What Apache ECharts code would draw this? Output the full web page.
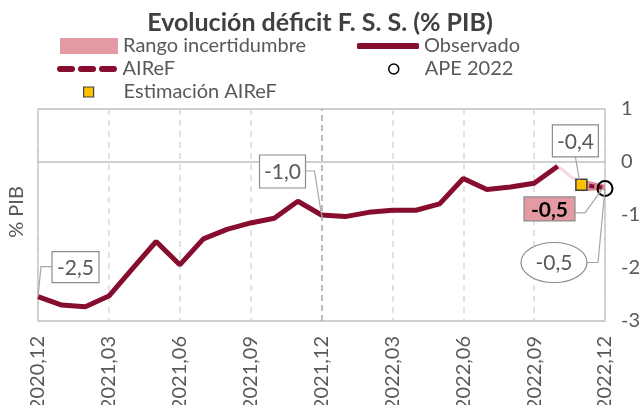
<!DOCTYPE html>
<html>
<head>
<meta charset="utf-8">
<script src="https://cdn.jsdelivr.net/npm/echarts@6/dist/echarts.min.js"></script>
<style>html,body{margin:0;padding:0;background:#fff}#c{width:640px;height:405px}</style>
</head>
<body>
<div id="c"></div>
<script>
// ---- data ----
const categories = ['2020,12','2021,01','2021,02','2021,03','2021,04','2021,05','2021,06','2021,07','2021,08','2021,09','2021,10','2021,11','2021,12',
  '2022,01','2022,02','2022,03','2022,04','2022,05','2022,06','2022,07','2022,08','2022,09','2022,10','2022,11','2022,12'];
const observed = [-2.54,-2.70,-2.73,-2.53,-2.01,-1.50,-1.94,-1.45,-1.27,-1.15,-1.06,-0.74,-1.00,
  -1.03,-0.95,-0.91,-0.91,-0.79,-0.31,-0.52,-0.47,-0.40,-0.08,null,null];
const aireF = [null,null,null,null,null,null,null,null,null,null,null,null,null,
  null,null,null,null,null,null,null,null,null,null,-0.43,-0.49];
const rangeLow = [null,null,null,null,null,null,null,null,null,null,null,null,null,
  null,null,null,null,null,null,null,null,null,null,-0.55,-0.53];
const rangeHigh = [null,null,null,null,null,null,null,null,null,null,null,null,null,
  null,null,null,null,null,null,null,null,null,null,-0.33,-0.43];
const estimacion = [null,null,null,null,null,null,null,null,null,null,null,null,null,
  null,null,null,null,null,null,null,null,null,null,-0.43,null];
const ape2022 = [null,null,null,null,null,null,null,null,null,null,null,null,null,
  null,null,null,null,null,null,null,null,null,null,null,-0.5];
const yTicks = [-3,-2,-1,0,1];
const annotText = ['-2,5','-1,0','-0,4','-0,5','-0,5'];

// derived for drawing
const rangeWidth = rangeHigh.map((h,i)=> h==null ? null : +(h - rangeLow[i]).toFixed(3));
const connector = categories.map((c,i)=> i===22 ? observed[22] : (i===23 ? estimacion[23] : null));
const annotData = [
  [0, observed[0], 0],
  [12, observed[12], 1],
  [23, estimacion[23], 2],
  [24, aireF[24], 3],
  [24, ape2022[24], 4]
];

// ---- styles / layout ----
const FONT = 'Lato';
const GRAY = '#595959';
const MAROON = '#870d2f';
const PINK = '#e39aa3';
const annotLayout = [
  {kind:'box', x:14, y:-45, w:47, h:31, leader:[[0,0],[3,-30],[14,-30]]},
  {kind:'box', x:-62, y:-60, w:46, h:33, leader:[[0,0],[-7,-44],[-16,-44]]},
  {kind:'box', x:-29, y:-60, w:46, h:32, leader:[[-2,-5],[-6,-28]]},
  {kind:'pink', x:-81, y:9, w:51, h:24, leader:[[-2,0],[-20,25],[-30,25]]},
  {kind:'ellipse', x:-51, y:74, w:66, h:40, leader:[[0,0],[-7,74],[-18,74]]}
];

const chart = echarts.init(document.getElementById('c'), null, {renderer:'canvas'});
const legendText = {fontSize:20, color:GRAY, fontFamily:FONT};
const option = {
  animation:false,
  textStyle:{fontFamily:FONT},
  title:{text:'Evolución déficit F. S. S. (% PIB)', left:'center', top:5,
    textStyle:{fontSize:25, fontWeight:'bold', color:'#404040', fontFamily:FONT}},
  legend:[
    {left:60, top:36, padding:0, itemWidth:58, itemHeight:16, textStyle:legendText, selectedMode:false,
      data:[{name:'Rango incertidumbre', icon:'rect', itemStyle:{color:PINK, borderWidth:0}}]},
    {left:357, top:36, padding:0, itemWidth:62, itemHeight:6, textStyle:legendText, selectedMode:false,
      data:[{name:'Observado', icon:'roundRect', itemStyle:{color:MAROON, borderWidth:0}}]},
    {left:57, top:59, padding:0, itemWidth:61, itemHeight:6, textStyle:legendText, selectedMode:false,
      data:[{name:'AIReF', icon:'path://M3,0h12a3,3 0 0 1 0,6h-12a3,3 0 0 1 0,-6z M24,0h12a3,3 0 0 1 0,6h-12a3,3 0 0 1 0,-6z M45,0h12a3,3 0 0 1 0,6h-12a3,3 0 0 1 0,-6z', itemStyle:{color:MAROON, borderWidth:0}}]},
    {left:388, top:59, padding:0, itemWidth:10, itemHeight:10, textStyle:Object.assign({padding:[0,0,0,21]}, legendText), selectedMode:false,
      data:[{name:'APE 2022', icon:'circle', itemStyle:{color:'#fff', borderColor:'#000', borderWidth:1.5}}]},
    {left:83, top:82, padding:0, itemWidth:10, itemHeight:10, textStyle:Object.assign({padding:[0,0,0,25]}, legendText), selectedMode:false,
      data:[{name:'Estimación AIReF', icon:'rect', itemStyle:{color:'#ffc000', borderColor:'#404040', borderWidth:1.2}}]}
  ],
  grid:{left:38, right:35, top:109, bottom:84, show:true, borderColor:'#bfbfbf', borderWidth:1.5, backgroundColor:'transparent',
    containLabel:false, outerBoundsMode:'none'},
  xAxis:{type:'category', data:categories, boundaryGap:false,
    axisLine:{show:false}, axisTick:{show:false},
    axisLabel:{interval:(i)=> i%3===0, rotate:90, margin:15, fontSize:20, color:GRAY, fontFamily:FONT},
    splitLine:{show:true, interval:(i)=> i%3===0 && i!==12, lineStyle:{color:'#d9d9d9', type:[6,5], width:1.5}}
  },
  yAxis:{type:'value', position:'right', min:yTicks[0], max:yTicks[yTicks.length-1], interval:1,
    axisLine:{show:false}, axisTick:{show:false}, splitLine:{show:false},
    axisLabel:{margin:16, fontSize:20, color:GRAY, fontFamily:FONT}
  },
  graphic:[{type:'text', x:17, y:212, rotation:Math.PI/2,
    style:{text:'% PIB', fontSize:20, fill:GRAY, fontFamily:FONT, align:'center', verticalAlign:'middle'}}],
  series:[
    {name:'rangeBase', type:'line', data:rangeLow, stack:'r', stackStrategy:'all', symbol:'none',
      lineStyle:{width:0, opacity:0}, silent:true, z:1},
    {name:'Rango incertidumbre', type:'line', data:rangeWidth, stack:'r', stackStrategy:'all', symbol:'none',
      lineStyle:{width:0, opacity:0}, areaStyle:{color:'#d98893', opacity:1}, silent:true, z:1},
    {name:'connector', type:'line', data:connector, symbol:'none', lineStyle:{color:'#f4dadd', width:3}, z:2, silent:true},
    {name:'Observado', type:'line', data:observed, symbol:'none', lineStyle:{color:MAROON, width:5}, itemStyle:{color:MAROON}, z:3,
      markLine:{silent:true, symbol:'none', label:{show:false},
        data:[{yAxis:0, lineStyle:{color:'#bfbfbf', type:'solid', width:1.5}},
              {xAxis:categories[12], lineStyle:{color:'#a6a6a6', type:[6,4], width:1.5}}]}},
    {name:'AIReF', type:'line', data:aireF, symbol:'none', lineStyle:{color:MAROON, width:4, type:[5,3]}, itemStyle:{color:MAROON}, z:4},
    {name:'Estimación AIReF', type:'scatter', data:estimacion, symbol:'rect', symbolSize:11,
      itemStyle:{color:'#ffc000', borderColor:'#404040', borderWidth:1.5, opacity:1}, z:6},
    {name:'APE 2022', type:'scatter', data:ape2022, symbol:'circle', symbolSize:15,
      itemStyle:{color:'rgba(255,255,255,0)', borderColor:'#000', borderWidth:2, opacity:1}, z:7},
    {name:'annot', type:'custom', data:annotData, clip:false, z:8, silent:true,
      encode:{x:0, y:1},
      renderItem:(params, api)=>{
        const p = api.coord([api.value(0), api.value(1)]);
        const L = annotLayout[api.value(2)];
        const txt = annotText[api.value(2)];
        const pts = L.leader.map(d=>[p[0]+d[0], p[1]+d[1]]);
        const children = [{type:'polyline', shape:{points:pts}, style:{stroke:'#a6a6a6', lineWidth:1.2, fill:null}}];
        const bx = p[0]+L.x, by = p[1]+L.y;
        if (L.kind === 'ellipse') {
          children.push({type:'ellipse', shape:{cx:bx, cy:by, rx:L.w/2, ry:L.h/2}, style:{fill:'#fff', stroke:'#8c8c8c', lineWidth:1.2}});
          children.push({type:'text', x:bx, y:by+1, style:{text:txt, fontSize:21, fill:GRAY, fontFamily:FONT, align:'center', verticalAlign:'middle'}});
        } else {
          const pink = L.kind === 'pink';
          children.push({type:'rect', shape:{x:bx, y:by, width:L.w, height:L.h}, style:{fill:pink?PINK:'#fff', stroke:'#8c8c8c', lineWidth:1.2}});
          children.push({type:'text', x:bx+L.w/2, y:by+L.h/2+1, style:{text:txt, fontSize:21, fontWeight:pink?'bold':'normal', fill:pink?'#000':GRAY, fontFamily:FONT, align:'center', verticalAlign:'middle'}});
        }
        return {type:'group', children};
      }
    }
  ]
};
chart.setOption(option);
</script>
</body>
</html>
